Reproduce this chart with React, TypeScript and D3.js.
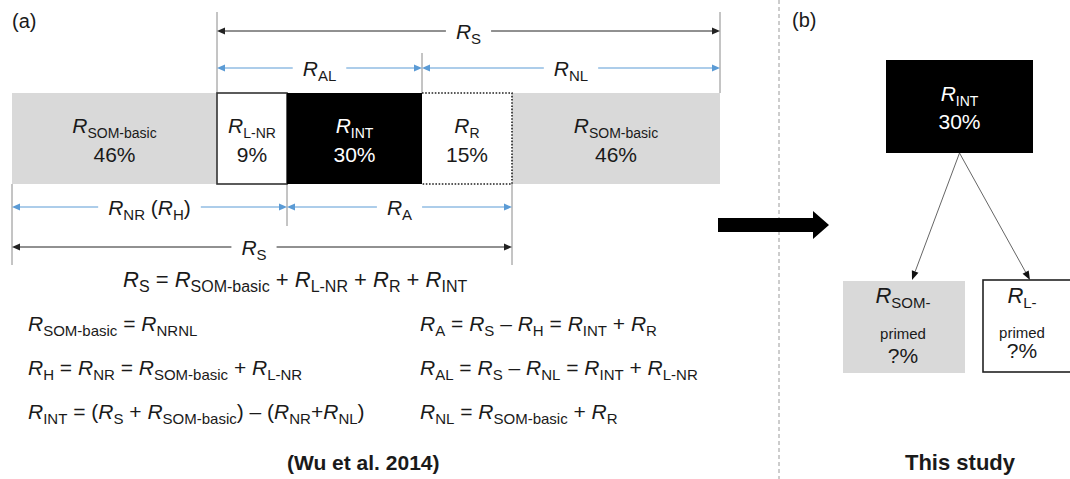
import React from "react";
import * as d3 from "d3";

// ---- data ----
const segmentKeys = ["SOM-basic", "L-NR", "INT", "R", "SOM-basic"];
const segmentPct = [46, 9, 30, 15, 46];

// dimension brackets: label, start boundary, end boundary
const spanLabels = ["R_{S}", "R_{AL}", "R_{NL}", "R_{NR} (R_{H})", "R_{A}", "R_{S}"];
const spanFrom = [1, 1, 3, 0, 2, 0];
const spanTo = [5, 3, 5, 2, 4, 4];

const totalEquation = "R_{S} = R_{SOM-basic} + R_{L-NR} + R_{R} + R_{INT}";
const leftEquations = [
  "R_{SOM-basic} = R_{NRNL}",
  "R_{H} = R_{NR} = R_{SOM-basic} + R_{L-NR}",
  "R_{INT} = (R_{S} + R_{SOM-basic}) – (R_{NR}+R_{NL})",
];
const rightEquations = [
  "R_{A} = R_{S} – R_{H} = R_{INT} + R_{R}",
  "R_{AL} = R_{S} – R_{NL} = R_{INT} + R_{L-NR}",
  "R_{NL} = R_{SOM-basic} + R_{R}",
];

const intPct = 30;
const primedKeys = ["SOM-", "L-"];
const primedPct = ["?%", "?%"];

// ---- layout ----
const W = 1070;
const H = 479;
const FONT = "'Liberation Sans', Arial, Helvetica, sans-serif";
const GREY = "#d9d9d9";
const BLUE = "#5b9bd5";
const GUIDE = "#8a8a8a";
const INK = "#1a1a1a";

// schematic widths of the five bar segments
const segmentWeight = [205, 70, 135, 90, 208];
const barTop = 93;
const barBottom = 184;

type Tok = { t: string; k: "i" | "s" | "n" };

function parse(s: string): Tok[] {
  const out: Tok[] = [];
  let buf = "";
  for (let i = 0; i < s.length; i++) {
    if (s[i] === "R" && s[i + 1] === "_" && s[i + 2] === "{") {
      if (buf) {
        out.push({ t: buf, k: "n" });
        buf = "";
      }
      const end = s.indexOf("}", i);
      out.push({ t: "R", k: "i" });
      out.push({ t: s.slice(i + 3, end), k: "s" });
      i = end;
    } else buf += s[i];
  }
  if (buf) out.push({ t: buf, k: "n" });
  return out;
}

let measureCtx: CanvasRenderingContext2D | null = null;
function richWidth(s: string, size: number, sub: number): number {
  if (!measureCtx) measureCtx = document.createElement("canvas").getContext("2d");
  if (!measureCtx) return s.length * size * 0.5;
  let w = 0;
  for (const tk of parse(s)) {
    measureCtx.font = `${tk.k === "i" ? "italic " : ""}${tk.k === "s" ? sub : size}px ${FONT}`;
    w += measureCtx.measureText(tk.t).width;
  }
  return w;
}

function Rich({
  x,
  y,
  s,
  size = 21,
  sub = 15,
  anchor = "start",
  fill = INK,
}: {
  x: number;
  y: number;
  s: string;
  size?: number;
  sub?: number;
  anchor?: string;
  fill?: string;
}) {
  const toks = parse(s);
  const shift = size * 0.24;
  let cur = 0;
  return (
    <text x={x} y={y} textAnchor={anchor} fontSize={size} fill={fill} style={{ whiteSpace: "pre" }}>
      {toks.map((tk, i) => {
        const target = tk.k === "s" ? shift : 0;
        const dy = target - cur;
        cur = target;
        return (
          <tspan
            key={i}
            dy={dy !== 0 ? dy : undefined}
            fontStyle={tk.k === "i" ? "italic" : undefined}
            fontSize={tk.k === "s" ? sub : undefined}
          >
            {tk.t}
          </tspan>
        );
      })}
    </text>
  );
}

function head(x: number, y: number, dir: number, len = 8, half = 3.5) {
  return `${x},${y} ${x - dir * len},${y - half} ${x - dir * len},${y + half}`;
}

function Span({
  x1,
  x2,
  y,
  label,
  color,
  dx = 0,
}: {
  x1: number;
  x2: number;
  y: number;
  label: string;
  color: string;
  dx?: number;
}) {
  const cx = (x1 + x2) / 2 + dx;
  const gap = richWidth(label, 21, 15) / 2 + 10;
  return (
    <g>
      <line x1={x1 + 4} x2={cx - gap} y1={y} y2={y} stroke={color} strokeWidth={1} />
      <line x1={cx + gap} x2={x2 - 4} y1={y} y2={y} stroke={color} strokeWidth={1} />
      <polygon points={head(x1, y, -1)} fill={color} />
      <polygon points={head(x2, y, 1)} fill={color} />
      <Rich x={cx} y={y + 7.5} s={label} anchor="middle" />
    </g>
  );
}

export default function App() {
  const total = d3.sum(segmentWeight);
  const x = d3.scaleLinear().domain([0, total]).range([12, 720]);
  const cum = [0, ...d3.cumsum(segmentWeight)];
  const bx = cum.map((c) => x(c));

  const spanY = [31, 68, 68, 207, 207, 247];
  const spanColor = ["#222", BLUE, BLUE, BLUE, BLUE, "#222"];
  const spanDx = [0, 0, 0, 0, 0, -8];

  // right panel geometry
  const intBox = { x: 886, y: 60, w: 147, h: 93 };
  const primedBox = [
    { x: 843, y: 281, w: 122, h: 92 },
    { x: 983, y: 280, w: 100, h: 92 },
  ];
  const primedText = [903, 1022];
  const origin = { x: intBox.x + intBox.w / 2, y: intBox.y + intBox.h };
  const targets = [
    { x: 912, y: 280 },
    { x: 1030, y: 280 },
  ];

  return (
    <svg
      width={W}
      height={H}
      viewBox={`0 0 ${W} ${H}`}
      style={{ position: "absolute", left: 0, top: 0, background: "#fff" }}
      fontFamily={FONT}
    >
      <rect width={W} height={H} fill="#fff" />

      {/* panel (a) */}
      <text x={12} y={28} fontSize={20} fill={INK}>
        (a)
      </text>

      {/* guide lines */}
      <g stroke={GUIDE} strokeWidth={1}>
        <line x1={bx[1]} x2={bx[1]} y1={12} y2={barTop} />
        <line x1={bx[5]} x2={bx[5]} y1={12} y2={barTop} />
        <line x1={bx[3]} x2={bx[3]} y1={53} y2={barTop} />
        <line x1={bx[0]} x2={bx[0]} y1={barBottom} y2={265} />
        <line x1={bx[2]} x2={bx[2]} y1={barBottom} y2={226} />
        <line x1={bx[4]} x2={bx[4]} y1={barBottom} y2={265} />
      </g>

      {/* bar background */}
      <rect x={bx[0]} y={barTop} width={bx[5] - bx[0]} height={barBottom - barTop} fill={GREY} />
      {/* L-NR */}
      <rect
        x={bx[1]}
        y={barTop}
        width={bx[2] - bx[1]}
        height={barBottom - barTop}
        fill="#fff"
        stroke="#333"
        strokeWidth={1.6}
      />
      {/* INT */}
      <rect x={bx[2]} y={barTop} width={bx[3] - bx[2]} height={barBottom - barTop} fill="#000" />
      {/* R (dotted outline) */}
      <rect x={bx[3]} y={barTop} width={bx[4] - bx[3]} height={barBottom - barTop} fill="#fff" />
      <path
        d={`M${bx[3]},${barTop}H${bx[4]}V${barBottom}H${bx[3]}`}
        fill="none"
        stroke="#222"
        strokeWidth={1.6}
        strokeDasharray="1.6,1.6"
      />

      {segmentKeys.map((k, i) => {
        const cx = (bx[i] + bx[i + 1]) / 2;
        const fill = i === 2 ? "#fff" : INK;
        return (
          <g key={i}>
            <Rich x={cx} y={133} s={`R_{${k}}`} anchor="middle" size={21} sub={14} fill={fill} />
            <text x={cx} y={162} textAnchor="middle" fontSize={21} fill={fill}>
              {segmentPct[i]}%
            </text>
          </g>
        );
      })}

      {spanLabels.map((l, i) => (
        <Span
          key={i}
          x1={bx[spanFrom[i]]}
          x2={bx[spanTo[i]]}
          y={spanY[i]}
          label={l}
          color={spanColor[i]}
          dx={spanDx[i]}
        />
      ))}

      <Rich x={123} y={287} s={totalEquation} size={22} sub={16} />

      {leftEquations.map((e, i) => (
        <Rich key={i} x={28} y={331 + i * 44} s={e} size={21} sub={15} />
      ))}
      {rightEquations.map((e, i) => (
        <Rich key={i} x={420} y={331 + i * 44} s={e} size={21} sub={15} />
      ))}

      <text x={287} y={470} fontSize={21} fontWeight="bold" fill={INK}>
        (Wu et al. 2014)
      </text>

      {/* divider */}
      <line x1={779} x2={779} y1={0} y2={H} stroke="#9a9a9a" strokeWidth={1} strokeDasharray="4,3" />

      {/* transition arrow */}
      <polygon
        points={`718,218 813,218 813,211 829,225 813,239 813,232 718,232`}
        fill="#000"
      />

      {/* panel (b) */}
      <text x={792} y={27} fontSize={20} fill={INK}>
        (b)
      </text>

      <rect x={intBox.x} y={intBox.y} width={intBox.w} height={intBox.h} fill="#000" />
      <Rich x={origin.x} y={101} s="R_{INT}" anchor="middle" size={21} sub={14} fill="#fff" />
      <text x={origin.x} y={129} textAnchor="middle" fontSize={21} fill="#fff">
        {intPct}%
      </text>

      {targets.map((t, i) => {
        const ang = Math.atan2(t.y - origin.y, t.x - origin.x);
        const len = 9;
        const half = 3.5;
        const bxp = t.x - Math.cos(ang) * len;
        const byp = t.y - Math.sin(ang) * len;
        const px = -Math.sin(ang) * half;
        const py = Math.cos(ang) * half;
        return (
          <g key={i}>
            <line x1={origin.x} y1={origin.y} x2={bxp} y2={byp} stroke="#666" strokeWidth={1} />
            <polygon
              points={`${t.x},${t.y} ${bxp + px},${byp + py} ${bxp - px},${byp - py}`}
              fill="#111"
            />
          </g>
        );
      })}

      <rect
        x={primedBox[0].x}
        y={primedBox[0].y}
        width={primedBox[0].w}
        height={primedBox[0].h}
        fill={GREY}
      />
      <rect
        x={primedBox[1].x}
        y={primedBox[1].y}
        width={primedBox[1].w}
        height={primedBox[1].h}
        fill="#fff"
        stroke="#222"
        strokeWidth={1.6}
      />
      {primedKeys.map((k, i) => (
        <g key={i}>
          <Rich x={primedText[i]} y={303} s={`R_{${k}}`} anchor="middle" size={22} sub={15} />
          <text x={primedText[i]} y={i === 0 ? 339 : 338} textAnchor="middle" fontSize={15} fill={INK}>
            primed
          </text>
          <text x={primedText[i]} y={i === 0 ? 363 : 358} textAnchor="middle" fontSize={21} fill={INK}>
            {primedPct[i]}
          </text>
        </g>
      ))}

      <text x={960} y={470} textAnchor="middle" fontSize={22} fontWeight="bold" fill={INK}>
        This study
      </text>
    </svg>
  );
}
